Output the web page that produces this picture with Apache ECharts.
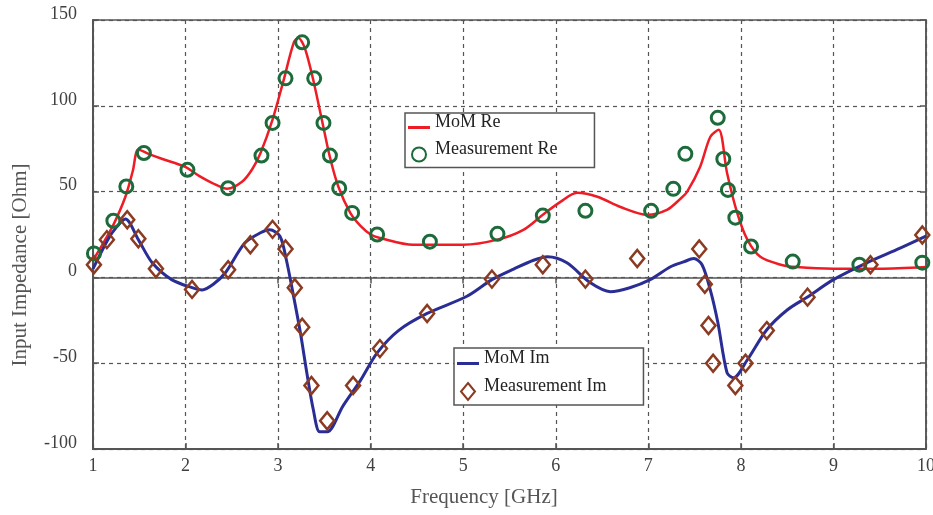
<!DOCTYPE html>
<html>
<head>
<meta charset="utf-8">
<script src="https://cdn.jsdelivr.net/npm/echarts@6/dist/echarts.min.js"></script>
<style>
  html, body { margin: 0; padding: 0; background: #fff; }
  #chart { width: 933px; height: 515px; }
</style>
</head>
<body>
<div id="chart"></div>
<script>
// Input impedance vs frequency: MoM simulation curves and measured points

// Simulated real part [GHz, Ohm]
const momRe = [
  [1.00, 10], [1.10, 19], [1.22, 30.6], [1.35, 47], [1.43, 62], [1.49, 74.5],
  [1.60, 72], [1.75, 69], [1.99, 64.5], [2.15, 59], [2.29, 55], [2.45, 51.7],
  [2.61, 55.7], [2.72, 63], [2.81, 72.5], [2.94, 92], [3.06, 115], [3.17, 137],
  [3.22, 139.5], [3.27, 136], [3.31, 130], [3.38, 115], [3.48, 90], [3.56, 70],
  [3.65, 53], [3.78, 37.6], [3.89, 30], [4.00, 25], [4.10, 23], [4.46, 19],
  [5.00, 19], [5.37, 22], [5.65, 27.7], [5.86, 36.5], [6.05, 44], [6.23, 49.3],
  [6.45, 47], [6.70, 41], [6.99, 36.5], [7.20, 39.3], [7.35, 46], [7.42, 50],
  [7.56, 64.5], [7.67, 82], [7.76, 86], [7.85, 61], [7.96, 37.6], [8.07, 22],
  [8.21, 12], [8.43, 7.4], [8.60, 6], [9.00, 5], [9.50, 5], [10.00, 6]
];

// Simulated imaginary part [GHz, Ohm]
const momIm = [
  [1.00, 5], [1.16, 22], [1.25, 29], [1.35, 34], [1.49, 22], [1.64, 8.5],
  [1.85, -1.3], [2.07, -6], [2.18, -7.3], [2.30, -4], [2.43, 2.7], [2.64, 20],
  [2.81, 26], [2.91, 27.7], [3.02, 24], [3.09, 10], [3.16, -9], [3.24, -32],
  [3.31, -55.5], [3.38, -77], [3.45, -90], [3.53, -90], [3.70, -75], [3.89, -60],
  [4.07, -44], [4.30, -31], [4.61, -21], [5.04, -11], [5.31, -1.3], [5.55, 5],
  [5.76, 10], [5.91, 12], [6.12, 8.5], [6.37, -3], [6.59, -8.3], [6.80, -6],
  [7.02, -1.3], [7.24, 6.2], [7.38, 9], [7.49, 11], [7.58, 7.4], [7.67, -7.4],
  [7.75, -26], [7.85, -55.5], [7.92, -58.5], [8.07, -48], [8.28, -30.5],
  [8.50, -19], [8.72, -11.4], [9.00, -1.3], [9.36, 8.5], [9.72, 17], [10.00, 24]
];

// Measured real part [GHz, Ohm]
const measRe = [
  [1.01, 14], [1.22, 33], [1.36, 53], [1.55, 72.5], [2.02, 62.7], [2.46, 52],
  [2.82, 71], [2.94, 90], [3.08, 116], [3.26, 137], [3.39, 116], [3.49, 90],
  [3.56, 71], [3.66, 52], [3.80, 37.6], [4.07, 25], [4.64, 20.8], [5.37, 25.4],
  [5.86, 36], [6.32, 38.8], [7.03, 38.8], [7.27, 51.6], [7.40, 72], [7.75, 93],
  [7.81, 69], [7.86, 51], [7.94, 34.8], [8.11, 18], [8.56, 9.2], [9.28, 7.4],
  [9.96, 8.6]
];

// Measured imaginary part [GHz, Ohm]
const measIm = [
  [1.01, 7.4], [1.15, 22], [1.37, 33.6], [1.49, 22.5], [1.68, 5], [2.07, -7],
  [2.46, 4.5], [2.70, 19], [2.94, 28], [3.08, 16.6], [3.18, -6], [3.26, -29],
  [3.36, -63], [3.53, -83.5], [3.81, -63], [4.10, -41.5], [4.61, -21], [5.31, -1],
  [5.86, 7.4], [6.32, -1], [6.88, 11], [7.55, 16.6], [7.61, -4], [7.65, -28],
  [7.70, -50], [7.94, -63], [8.05, -50], [8.28, -31], [8.72, -11.5], [9.40, 7.4],
  [9.96, 24.7]
];

const xTicks = [1, 10, 1];        // min, max, step
const yTicks = [-100, 150, 50];   // min, max, step

const serif = '"Liberation Serif", "DejaVu Serif", serif';
const frameColor = '#555';
const gridLine = { show: true, lineStyle: { color: '#555', width: 1.2, type: [4, 4] } };
const tick = { show: true, inside: true, length: 6, lineStyle: { color: frameColor, width: 1.5 } };
const lineIcon = 'path://M0,0H22V3H0Z';
const diamondIcon = 'path://M7,0L14,8.5L7,17L0,8.5Z';

// legend text is lifted a little above its icon
const legendText = {
  fontFamily: serif, fontSize: 18, color: '#222',
  rich: { t: { fontFamily: serif, fontSize: 18, color: '#222', padding: [0, 0, 11, 0] } }
};

const chart = echarts.init(document.getElementById('chart'), null, { renderer: 'canvas' });

chart.setOption({
  animation: false,
  backgroundColor: '#fff',
  grid: {
    left: 93, right: 7, top: 20, bottom: 66,
    outerBoundsMode: 'none', containLabel: false,
    show: true, borderColor: frameColor, borderWidth: 1.5, backgroundColor: 'transparent'
  },
  xAxis: [{
    type: 'value', min: xTicks[0], max: xTicks[1], interval: xTicks[2],
    axisLine: { show: true, onZero: false, lineStyle: { color: frameColor, width: 2 } },
    axisTick: tick,
    splitLine: gridLine,
    axisLabel: { margin: 8, fontFamily: serif, fontSize: 18, color: '#404040' }
  }, {
    type: 'value', position: 'top', min: xTicks[0], max: xTicks[1], interval: xTicks[2],
    axisLine: { show: true, lineStyle: { color: frameColor, width: 1.5 } },
    axisTick: tick, splitLine: { show: false }, axisLabel: { show: false }
  }],
  yAxis: [{
    type: 'value', min: yTicks[0], max: yTicks[1], interval: yTicks[2],
    axisLine: { show: true, onZero: false, lineStyle: { color: frameColor, width: 2 } },
    axisTick: tick,
    splitLine: gridLine,
    axisLabel: {
      margin: 16, fontFamily: serif, fontSize: 18, color: '#404040',
      formatter: '{v|{value}}',
      rich: { v: { fontFamily: serif, fontSize: 18, color: '#404040', padding: [0, 0, 12, 0] } }
    }
  }, {
    type: 'value', position: 'right', min: yTicks[0], max: yTicks[1], interval: yTicks[2],
    axisLine: { show: true, lineStyle: { color: frameColor, width: 1.5 } },
    axisTick: tick, splitLine: { show: false }, axisLabel: { show: false }
  }],
  legend: [{
    orient: 'vertical', left: 405, top: 113,
    data: [
      { name: 'MoM Re', icon: lineIcon },
      { name: 'Measurement Re', icon: 'circle' }
    ],
    formatter: '{t|{name}}',
    itemWidth: 22, itemHeight: 14, itemGap: 9,
    padding: [0, 37, 5, 3],
    backgroundColor: '#fff', borderColor: frameColor, borderWidth: 1.5,
    textStyle: legendText
  }, {
    orient: 'vertical', left: 454, top: 348,
    data: [
      { name: 'MoM Im', icon: lineIcon },
      { name: 'Measurement Im', icon: diamondIcon }
    ],
    formatter: '{t|{name}}',
    itemWidth: 22, itemHeight: 17, itemGap: 10,
    padding: [1, 37, 4, 3],
    backgroundColor: '#fff', borderColor: frameColor, borderWidth: 1.5,
    textStyle: legendText
  }],
  graphic: [{
    type: 'text', x: 484, y: 497,
    style: { text: 'Frequency [GHz]', fontFamily: serif, fontSize: 21,
             fill: '#555', textAlign: 'center', textVerticalAlign: 'middle' }
  }, {
    type: 'text', x: 20, y: 265, rotation: Math.PI / 2,
    style: { text: 'Input Impedance [Ohm]', fontFamily: serif, fontSize: 21,
             fill: '#555', textAlign: 'center', textVerticalAlign: 'middle' }
  }],
  series: [{
    name: 'MoM Re', type: 'line', data: momRe, symbol: 'none', smooth: 0.3,
    lineStyle: { color: '#ee1c25', width: 2.5 }, itemStyle: { color: '#ee1c25' }, z: 2
  }, {
    name: 'MoM Im', type: 'line', data: momIm, symbol: 'none', smooth: 0.3,
    lineStyle: { color: '#2a2d93', width: 3 }, itemStyle: { color: '#2a2d93' }, z: 3
  }, {
    name: 'Measurement Re', type: 'scatter', data: measRe, symbol: 'circle', symbolSize: 13,
    itemStyle: { color: 'rgba(255,255,255,0)', borderColor: '#1d6b3b', borderWidth: 3, opacity: 1 }, z: 4
  }, {
    name: 'Measurement Im', type: 'scatter', data: measIm, symbol: 'diamond', symbolSize: [14, 17],
    itemStyle: { color: 'rgba(255,255,255,0)', borderColor: '#8a3b22', borderWidth: 2.5, opacity: 1 }, z: 4
  }]
});
</script>
</body>
</html>
